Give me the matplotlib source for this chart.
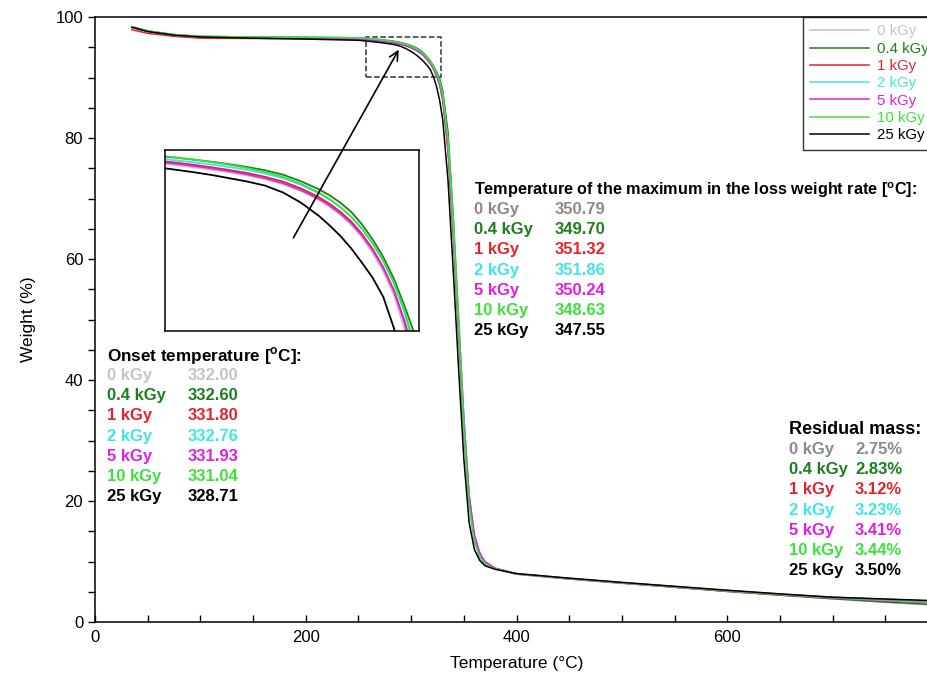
import matplotlib
matplotlib.use('Agg')
import matplotlib.pyplot as plt
from matplotlib.patches import Rectangle, FancyArrowPatch

# doses and summary values
doses = ['0 kGy', '0.4 kGy', '1 kGy', '2 kGy', '5 kGy', '10 kGy', '25 kGy']
onset_temp = ['332.00', '332.60', '331.80', '332.76', '331.93', '331.04', '328.71']
max_rate_temp = ['350.79', '349.70', '351.32', '351.86', '350.24', '348.63', '347.55']
residual_mass = ['2.75%', '2.83%', '3.12%', '3.23%', '3.41%', '3.44%', '3.50%']

temperature = [35, 50, 75, 100, 150, 200,
               250, 260, 265, 270, 275, 280, 285, 290, 295, 300,
               303, 306, 309, 312, 315, 318, 321, 324, 327, 330,
               335, 340, 345, 350, 355, 360, 365, 370, 380,
               400, 450, 500, 550, 600, 650, 700, 750, 800]

w_0 = [98.3, 97.6, 97.0, 96.7, 96.55, 96.45,
       96.3, 96.15, 96.07, 95.98, 95.88, 95.77, 95.63, 95.45, 95.2, 94.88,
       94.63, 94.33, 93.97, 93.52, 92.95, 92.27, 91.4, 90.15, 88.6, 86.0,
       77.5, 63.0, 47.0, 31.0, 19.0, 13.2, 10.7, 9.6, 8.8,
       7.95, 7.15, 6.45, 5.75, 5.05, 4.4, 3.8, 3.25, 2.75]
w_04 = [98.4, 97.7, 97.1, 96.8, 96.7, 96.65,
        96.55, 96.42, 96.35, 96.27, 96.18, 96.08, 95.96, 95.8, 95.56, 95.27,
        95.05, 94.78, 94.45, 94.0, 93.45, 92.8, 92.0, 91.0, 89.9, 87.8,
        81.0, 67.0, 50.5, 34.0, 21.0, 14.0, 11.0, 9.7, 8.8,
        7.95, 7.15, 6.45, 5.75, 5.05, 4.45, 3.85, 3.3, 2.83]
w_1 = [97.9, 97.3, 96.8, 96.5, 96.45, 96.42,
       96.38, 96.24, 96.16, 96.07, 95.97, 95.86, 95.72, 95.55, 95.3, 94.98,
       94.74, 94.45, 94.1, 93.65, 93.1, 92.42, 91.57, 90.4, 88.9, 86.4,
       78.0, 64.0, 48.0, 32.0, 20.0, 13.8, 11.0, 9.7, 8.8,
       7.9, 7.1, 6.4, 5.75, 5.1, 4.5, 3.95, 3.5, 3.12]
w_2 = [98.3, 97.6, 97.0, 96.7, 96.6, 96.55,
       96.46, 96.32, 96.25, 96.17, 96.08, 95.97, 95.84, 95.67, 95.43, 95.12,
       94.89, 94.61, 94.27, 93.84, 93.3, 92.65, 91.83, 90.75, 89.3, 87.0,
       79.5, 66.0, 50.0, 33.5, 21.0, 14.2, 11.2, 9.8, 8.85,
       7.95, 7.15, 6.45, 5.8, 5.15, 4.55, 4.0, 3.6, 3.23]
w_5 = [98.3, 97.6, 97.0, 96.7, 96.55, 96.48,
       96.34, 96.2, 96.12, 96.03, 95.93, 95.81, 95.67, 95.49, 95.24, 94.92,
       94.68, 94.39, 94.04, 93.6, 93.06, 92.4, 91.57, 90.45, 89.0, 86.6,
       78.5, 65.0, 49.0, 33.0, 21.0, 14.5, 11.5, 10.0, 8.9,
       8.0, 7.2, 6.5, 5.85, 5.2, 4.6, 4.05, 3.7, 3.41]
w_10 = [98.4, 97.7, 97.1, 96.8, 96.7, 96.66,
        96.57, 96.43, 96.35, 96.26, 96.16, 96.04, 95.9, 95.72, 95.47, 95.15,
        94.91, 94.62, 94.27, 93.84, 93.3, 92.66, 91.86, 90.83, 89.45, 87.2,
        79.5, 65.5, 49.0, 32.0, 19.5, 13.3, 10.7, 9.6, 8.8,
        7.95, 7.2, 6.5, 5.85, 5.2, 4.6, 4.1, 3.75, 3.44]
w_25 = [98.3, 97.6, 97.0, 96.7, 96.5, 96.35,
        96.15, 95.98, 95.89, 95.79, 95.67, 95.55, 95.4, 95.15, 94.78, 94.3,
        93.95, 93.57, 93.12, 92.6, 92.05, 91.35, 90.2, 88.6, 86.3, 83.0,
        73.0, 58.0, 42.0, 27.0, 16.5, 12.0, 10.2, 9.3, 8.7,
        8.0, 7.25, 6.55, 5.9, 5.25, 4.65, 4.1, 3.8, 3.5]
weights = [w_0, w_04, w_1, w_2, w_5, w_10, w_25]

colors = ['#c4c4c4', '#1b7f1b', '#e0262c', '#3fe6e6', '#e020e0', '#3ee03e', 'black']
block_colors = ['#8a8a8a'] + colors[1:]

plt.rcParams['font.family'] = ['Liberation Sans', 'DejaVu Sans']
plt.rcParams['mathtext.fontset'] = 'custom'
plt.rcParams['mathtext.rm'] = 'Liberation Sans'
plt.rcParams['mathtext.bf'] = 'Liberation Sans:bold'

W, H = 928, 677
fig = plt.figure(figsize=(W / 100, H / 100), dpi=100)
ax = fig.add_axes([95 / W, 1 - 622 / H, 843 / W, 605 / H])

for w, c, lab in zip(weights, colors, doses):
    ax.plot(temperature, w, color=c, lw=1.1, label=lab)

ax.set_xlim(0, 800)
ax.set_ylim(0, 100)
ax.set_xticks([0, 200, 400, 600])
ax.set_xticks(range(0, 801, 50), minor=True)
ax.set_yticks([0, 20, 40, 60, 80, 100])
ax.set_yticks(range(0, 101, 5), minor=True)
ax.tick_params(axis='x', which='both', direction='in', length=5, width=1, labelsize=12, pad=6)
ax.tick_params(axis='y', which='both', direction='out', length=5, width=1, labelsize=12)
for sp in ax.spines.values():
    sp.set_linewidth(1.1)
ax.set_xlabel('Temperature (°C)', fontsize=12.5, labelpad=8)
ax.set_ylabel('Weight (%)', fontsize=12.5, labelpad=14)

# zoom region
x0, x1, y0, y1 = 257, 328, 90.1, 96.7
ax.add_patch(Rectangle((x0, y0), x1 - x0, y1 - y0, fill=False, ls='--', lw=1.1, ec='#333333'))

leg = ax.legend(loc='upper left', bbox_to_anchor=(803 / W, 1 - 17 / H),
                bbox_transform=fig.transFigure, frameon=True, fancybox=False,
                edgecolor='black', fontsize=10.8, handlelength=3.9, labelspacing=0.22,
                borderaxespad=0, borderpad=0.5, handletextpad=0.55)
leg.get_frame().set_linewidth(1.0)
for txt, c in zip(leg.get_texts(), colors):
    txt.set_color(c)

# inset
axins = fig.add_axes([165 / W, 1 - 331 / H, 254 / W, 181 / H])
for w, c in zip(weights, colors):
    axins.plot(temperature, w, color=c, lw=1.3)
axins.set_xlim(x0, x1)
axins.set_ylim(y0, y1)
axins.set_xticks([])
axins.set_yticks([])
for sp in axins.spines.values():
    sp.set_linewidth(1.1)

arrow = FancyArrowPatch((187, 63.1), (289.5, 95.0), transform=ax.transData,
                        arrowstyle='->', mutation_scale=16, lw=1.2, color='black', zorder=10)
fig.add_artist(arrow)


def block(title, x_lab, x_val, y_title, values, cols, row_h=20.2, title_size=12.3):
    fig.text(x_lab / W, 1 - y_title / H, title, fontsize=title_size, fontweight='bold', va='center')
    for i, (d, v) in enumerate(zip(doses, values)):
        yy = 1 - (y_title + 19.5 + i * row_h) / H
        fig.text(x_lab / W, yy, d, fontsize=12, fontweight='bold', color=cols[i], va='center')
        fig.text(x_val / W, yy, v, fontsize=12, fontweight='bold', color=cols[i], va='center')


block(r'Onset temperature [$^\mathbf{o}$C]:', 107, 188, 356, onset_temp, colors)
block(r'Temperature of the maximum in the loss weight rate [$^\mathbf{o}$C]:', 474, 555, 190,
      max_rate_temp, block_colors, title_size=11.7)
block('Residual mass:', 789, 855, 430, residual_mass, block_colors, title_size=13)

fig.savefig('out.png', dpi=100)
